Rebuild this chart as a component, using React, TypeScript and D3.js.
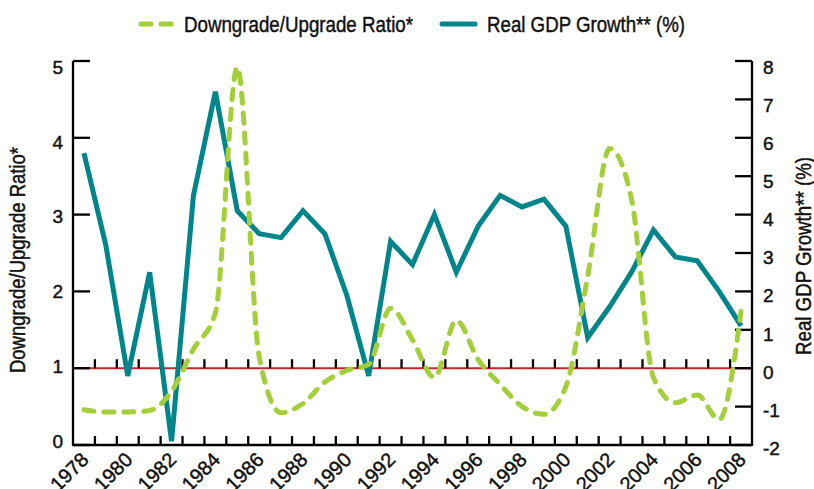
import React from 'react'
import * as d3 from 'd3'

// years on the x axis
const years = d3.range(1978, 2009)

// Downgrade/Upgrade ratio (left axis)
const ratio = [0.46, 0.43, 0.43, 0.45, 0.7, 1.25, 1.72, 4.92, 1.15, 0.42, 0.54, 0.82, 0.97, 1.05, 1.78, 1.37, 0.88, 1.62, 1.11, 0.79, 0.5, 0.4, 0.76, 2.2, 3.86, 3.2, 0.88, 0.55, 0.65, 0.33, 1.74]

// Real GDP growth % (right axis)
const gdp = [5.6, 3.2, -0.2, 2.5, -1.9, 4.5, 7.2, 4.1, 3.5, 3.4, 4.1, 3.5, 1.9, -0.2, 3.3, 2.7, 4.0, 2.5, 3.7, 4.5, 4.2, 4.4, 3.7, 0.8, 1.6, 2.5, 3.6, 2.9, 2.8, 2.0, 1.1]

const leftTicks = [0, 1, 2, 3, 4, 5]
const rightTicks = [-2, -1, 0, 1, 2, 3, 4, 5, 6, 7, 8]
const labelYears = years.filter(y => (y - 1978) % 2 === 0)

const W = 814
const H = 489
const left = 73
const right = 752
const top = 61
const bottom = 445

const TEAL = '#00868a'
const GREEN = '#a5cf3a'
const RED = '#c1272d'
const FONT = "'Liberation Sans', Arial, sans-serif"

export default function App() {
  const x = d3.scaleBand<number>().domain(years).range([left, right])
  const bw = x.bandwidth()
  const cx = (y: number) => (x(y) as number) + bw / 2
  const yL = d3.scaleLinear().domain([0, 5]).range([bottom, top])
  const yR = d3.scaleLinear().domain([-2, 8]).range([bottom, top])
  // the printed numbers sit a bit off the ticks in the original
  const labL = d3.scaleLinear().domain([0, 5]).range([441, 67])
  const labR = d3.scaleLinear().domain([-2, 8]).range([448, 67])

  const gdpLine = d3.line<number>()
    .x((d, i) => cx(years[i]))
    .y(d => yR(d))
  const ratioLine = d3.line<number>()
    .x((d, i) => cx(years[i]))
    .y(d => yL(d))
    .curve(d3.curveMonotoneX)

  const bounds = years.slice(1)
  const redY = yL(1)

  return (
    <svg width={W} height={H} style={{ position: 'absolute', left: 0, top: 0 }} fontFamily={FONT}>
      <g fill="#111" stroke="#111" strokeWidth={0.45}>
        {/* legend */}
        <text x={184} y={31.5} fontSize={22} textLength={229} lengthAdjust="spacingAndGlyphs">Downgrade/Upgrade Ratio*</text>
        <text x={487} y={31.5} fontSize={22} textLength={198} lengthAdjust="spacingAndGlyphs">Real GDP Growth** (%)</text>

        {/* tick labels */}
        <g fontSize={19}>
          {leftTicks.map(t => (
            <text key={'lt' + t} x={63} y={labL(t)} dy="0.36em" textAnchor="end">{t}</text>
          ))}
          {rightTicks.map(t => (
            <text key={'rt' + t} x={763} y={labR(t)} dy="0.36em">{t}</text>
          ))}
        </g>
        <g fontSize={20}>
          {labelYears.map(y => (
            <text key={'x' + y} transform={`translate(${cx(y) + 6},${bottom + 16}) rotate(-45)`} textAnchor="end">{y}</text>
          ))}
        </g>

        {/* axis titles */}
        <text transform={`translate(25,260) rotate(-90)`} textAnchor="middle" fontSize={22} textLength={226} lengthAdjust="spacingAndGlyphs">Downgrade/Upgrade Ratio*</text>
        <text transform={`translate(811,256) rotate(-90)`} textAnchor="middle" fontSize={22} textLength={198} lengthAdjust="spacingAndGlyphs">Real GDP Growth** (%)</text>
      </g>

      <line x1={141} x2={171} y1={24} y2={24} stroke={GREEN} strokeWidth={5} strokeLinecap="round" strokeDasharray="10 10" />
      <line x1={442} x2={475} y1={24} y2={24} stroke={TEAL} strokeWidth={5} strokeLinecap="round" />

      {/* reference line at ratio 1 / growth 0 */}
      <line x1={left} x2={right} y1={redY} y2={redY} stroke={RED} strokeWidth={2} />

      {/* axes */}
      <g stroke="#000" strokeWidth={2.3}>
        <line x1={left} x2={left} y1={top} y2={bottom + 1} />
        <line x1={right} x2={right} y1={top} y2={bottom + 1} />
        <line x1={left} x2={right} y1={bottom} y2={bottom} />
        {leftTicks.map(t => (
          <line key={'l' + t} x1={left} x2={left + 17} y1={yL(t)} y2={yL(t)} />
        ))}
        {rightTicks.map(t => (
          <line key={'r' + t} x1={right - 17} x2={right} y1={yR(t)} y2={yR(t)} />
        ))}
        {bounds.map(b => (
          <line key={'b' + b} x1={x(b)} x2={x(b)} y1={bottom} y2={bottom - 9} />
        ))}
        {bounds.map(b => (
          <line key={'m' + b} x1={x(b)} x2={x(b)} y1={redY} y2={redY - 9} />
        ))}
      </g>

      {/* series */}
      <path d={gdpLine(gdp) as string} fill="none" stroke={TEAL} strokeWidth={5} strokeLinejoin="miter" />
      <path d={ratioLine(ratio) as string} fill="none" stroke={GREEN} strokeWidth={5} strokeLinecap="round" strokeDasharray="10 10" />
    </svg>
  )
}
